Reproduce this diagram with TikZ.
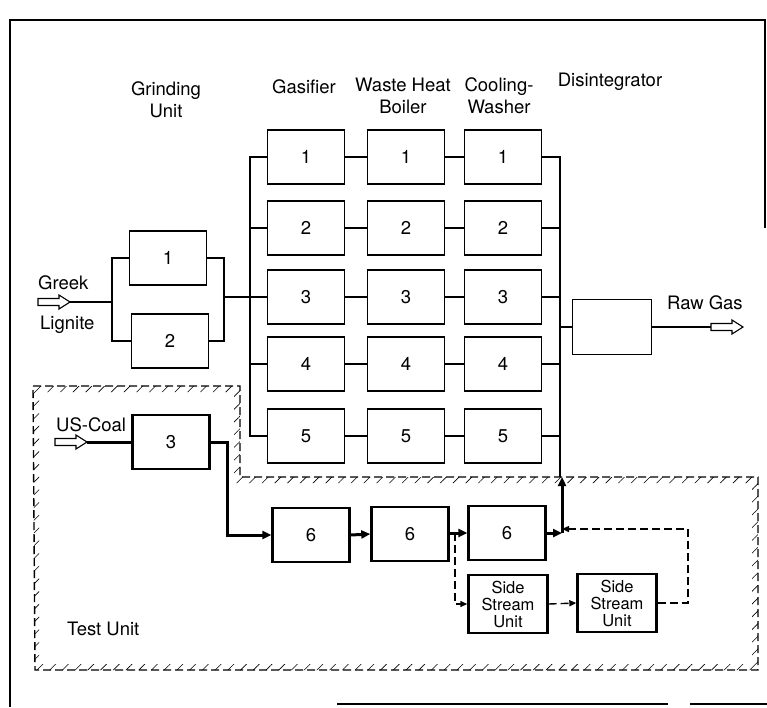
\documentclass[tikz,border=0pt]{standalone}
\usepackage{fontspec}
\setmainfont{TeX Gyre Heros}
\usetikzlibrary{arrows.meta, patterns.meta}
\newcommand\hollowarr[3]{%
  \draw[line width=1.1pt, fill=white] (#2,#3-3.5) -- ++(21,0) -- ++(0,-3.5) -- ++(11,7) -- ++(-11,7) -- ++(0,-3.5) -- ++(-21,0) -- cycle;
  \coordinate (#1-tail) at (#2,#3);
  \coordinate (#1-tip) at (#2+32,#3);}
\begin{document}
\begin{tikzpicture}[x=1pt,y=-1pt,
  box/.style={draw, line width=1.8pt, minimum width=77pt, minimum height=54pt, inner sep=0pt, font=\fontsize{18.5}{20}\selectfont},
  tbox/.style={box, line width=2.4pt},
  ssbox/.style={tbox, minimum width=79pt, minimum height=58pt, align=center, font=\fontsize{16.5}{17}\selectfont},
  lbl/.style={font=\fontsize{18.5}{22}\selectfont, align=center, inner sep=0pt},
  conn/.style={line width=1.3pt},
  heavy/.style={line width=3pt},
  dsh/.style={line width=1.4pt, dash pattern=on 8pt off 4pt},
  arr/.style={-{Triangle[length=9pt,width=8pt]}},
  darr/.style={-{Triangle[length=7pt,width=6pt]}},
]
\useasboundingbox (0,0) rectangle (767,707);

% frame
\draw[line width=1.5pt] (10,707) -- (10,20) -- (765,20) -- (765,228);
\draw[line width=1.5pt] (337,704) -- (668,704);
\draw[line width=1.5pt] (690,704) -- (767,704);

% test unit region
\path[pattern={Lines[angle=45,distance=9pt,line width=0.6pt]}, even odd rule]
  (33,386) -- (240,386) -- (240,477) -- (758,477) -- (758,670) -- (35,670) -- cycle
  (39,392) -- (234,392) -- (234,483) -- (752,483) -- (752,664) -- (39,664) -- cycle;
\draw[dsh] (33,386) -- (240,386) -- (240,477) -- (758,477) -- (758,670) -- (35,670) -- cycle;

% headers
\node[lbl] (hG) at (166,100) {Grinding\\Unit};
\node[lbl] (hGa) at (304,87) {Gasifier};
\node[lbl] (hW) at (403,96) {Waste Heat\\Boiler};
\node[lbl] (hC) at (499,96) {Cooling-\\Washer};
\node[lbl] (hD) at (610,82) {Disintegrator};

% grinding
\node[box] (G1) at (168,258) {1};
\node[box] (G2) at (170,341) {2};

% main grid
\foreach \i/\y in {1/157,2/228,3/297,4/364,5/436}{
  \node[box] (Ga\i) at (306,\y) {\i};
  \node[box] (W\i) at (406,\y) {\i};
  \node[box] (C\i) at (503,\y) {\i};
}
\node[box, minimum width=79pt, minimum height=55pt] (D) at (612,327) {};

% labels
\node[lbl, anchor=west] (tGreek) at (38,283) {Greek};
\node[lbl, anchor=west] (tLig) at (40,325) {Lignite};
\node[lbl, anchor=west] (tRaw) at (667,303) {Raw Gas};
\node[lbl, anchor=west] (tUS) at (56,425) {US-Coal};
\node[lbl, anchor=west] (tTest) at (67,629) {Test Unit};

% input / output arrows
\hollowarr{inG}{38}{302}
\hollowarr{outR}{711}{327}
\hollowarr{inU}{55}{442}

% grinding connections
\coordinate (lb) at (112,302);
\coordinate (rb) at (224,297);
\draw[conn] (inG-tip) -- (lb);
\draw[conn] (G1.west) -| (lb) |- (G2.west);
\draw[conn] (G1.east) -| (rb) |- (G2.east);
\draw[conn] (rb) -- (Ga3.west);

% gasifier bus
\coordinate (lbus) at (250,297);
\draw[conn] (Ga1.west) -| (lbus) |- (Ga5.west);
\draw[conn] (Ga2.west) -- (Ga2.west -| lbus);
\draw[conn] (Ga4.west) -- (Ga4.west -| lbus);

% rows
\foreach \i in {1,...,5}{
  \draw[conn] (Ga\i.east) -- (W\i.west);
  \draw[conn] (W\i.east) -- (C\i.west);
}

% right bus
\coordinate (rbus) at (560,477);
\draw[conn] (C1.east) -| (rbus);
\foreach \i in {2,...,5}{
  \draw[conn] (C\i.east) -- (C\i.east -| rbus);
}
\draw[conn] (D.west) -- (D.west -| rbus);
\draw[conn] (D.east) -- (outR-tail);

% test line
\node[tbox] (T3) at (171,442) {3};
\node[tbox] (Ga6) at (311,535) {6};
\node[tbox] (W6) at (410,534) {6};
\node[tbox] (C6) at (507,533) {6};
\node[ssbox] (SS1) at (508,604) {Side\\Stream\\Unit};
\node[ssbox] (SS2) at (617,603) {Side\\Stream\\Unit};

\draw[heavy] (inU-tip) -- (T3.west);
\coordinate (tc) at (227,535);
\draw[heavy, arr] (T3.east) -| (tc) -- (Ga6.west);
\draw[heavy, arr] (Ga6.east) -- (W6.west);
\draw[heavy, arr] (W6.east |- C6.west) -- (C6.west);
\coordinate (J) at (562,533);
\draw[heavy, arr] (C6.east) -- (J);
\draw[heavy, arr] (J) -- (rbus -| J);

\coordinate (B) at (455,533);
\coordinate (sr) at (688,529);
\draw[dsh, darr] (B) |- (SS1.west);
\draw[dsh, darr] (SS1.east) -- (SS2.west);
\draw[dsh, darr] (SS2.east) -| (sr) -- (sr -| J);
\end{tikzpicture}
\end{document}
